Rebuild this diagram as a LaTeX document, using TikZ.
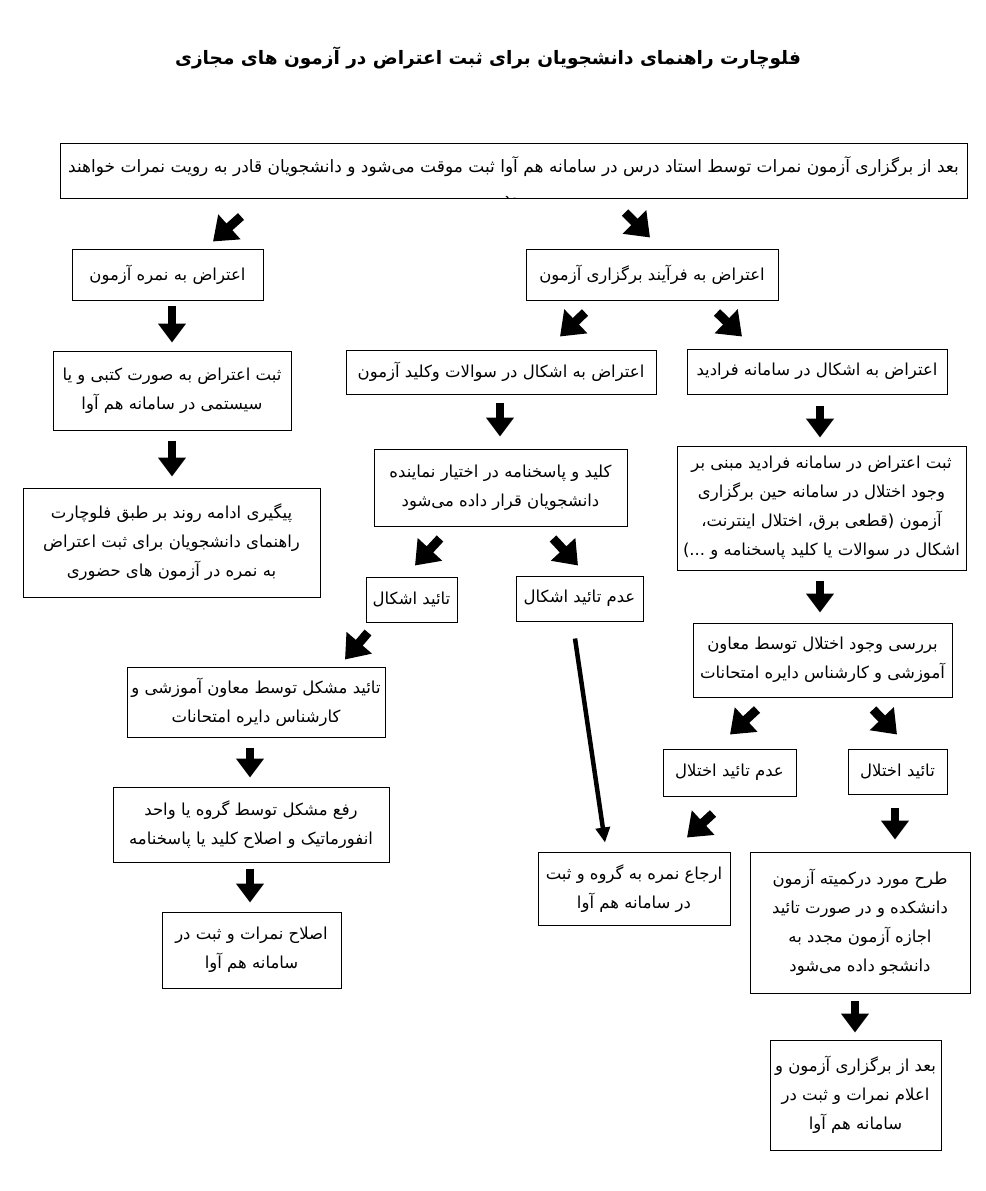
\documentclass[tikz,border=0pt]{standalone}
\usepackage{fontspec}
\usetikzlibrary{arrows.meta,calc}
\newfontfamily\arabicfont[Script=Arabic]{DejaVu Sans}
\TeXXeTstate=1
\newcommand{\fa}[1]{\beginR #1\endR}
\begin{document}
\begin{tikzpicture}[x=1pt,y=-1pt,
  box/.style={draw, line width=1pt, align=center, inner sep=0pt,
    font=\arabicfont\fontsize{16.5}{29}\selectfont},
  txt/.style={align=center, inner sep=0pt,
    font=\arabicfont\fontsize{17}{31}\selectfont},
  blk/.style={line width=8pt, -{Triangle[length=19pt,width=27pt]}},
  dgl/.style={line width=9pt, -{Triangle[length=22pt,width=32pt]}},
  lng/.style={line width=4.5pt, -{Triangle[length=15pt,width=14pt]}}]
\useasboundingbox[fill=white] (0,0) rectangle (985,1191);

\node[font=\arabicfont\bfseries\fontsize{18.5}{22}\selectfont] (title) at (488,58)
  {\fa{فلوچارت راهنمای دانشجویان برای ثبت اعتراض در آزمون های مجازی}};

\node[box, minimum width=907, minimum height=55] (top) at (513.5,170.5) {};
\begin{scope}
\clip (top.south west) rectangle (top.north east);
\node[txt] (toptext) at (513.5,182)
  {\fa{بعد از برگزاری آزمون نمرات توسط استاد درس در سامانه هم آوا ثبت موقت می‌شود و دانشجویان  قادر به رویت نمرات خواهند}\\\fa{بود}};
\end{scope}

\node[box, minimum width=191, minimum height=51] (n1) at (167.5,274.5) {\fa{اعتراض به نمره آزمون}};
\node[box, minimum width=252, minimum height=51] (n2) at (652,274.5) {\fa{اعتراض به فرآیند برگزاری آزمون}};
\node[box, minimum width=238, minimum height=79] (n3) at (172,390.5)
  {\fa{ثبت اعتراض به صورت کتبی و یا}\\\fa{سیستمی در سامانه هم آوا}};
\node[box, minimum width=297, minimum height=109] (n4) at (171.5,542.5)
  {\fa{پیگیری ادامه روند بر طبق فلوچارت}\\\fa{راهنمای دانشجویان  برای ثبت اعتراض}\\\fa{به نمره در آزمون های حضوری}};
\node[box, minimum width=310, minimum height=44] (n5) at (501,372) {\fa{اعتراض به اشکال در سوالات وکلید آزمون}};
\node[box, minimum width=260, minimum height=45] (n6) at (817,371.5) {\fa{اعتراض به اشکال در سامانه فرادید}};
\node[box, minimum width=253, minimum height=77] (n7) at (500.5,487.5)
  {\fa{کلید و پاسخنامه در اختیار نماینده}\\\fa{دانشجویان قرار داده می‌شود}};
\node[box, minimum width=289, minimum height=124] (n8) at (821.5,508)
  {\fa{ثبت اعتراض در سامانه فرادید مبنی بر}\\\fa{وجود اختلال در سامانه حین برگزاری}\\\fa{آزمون (قطعی برق، اختلال اینترنت،}\\\fa{اشکال در سوالات یا کلید پاسخنامه و ...)}};
\node[box, minimum width=91, minimum height=45] (n9) at (411.5,599.5) {\fa{تائید اشکال}};
\node[box, minimum width=127, minimum height=45] (n10) at (579.5,598.5) {\fa{عدم تائید اشکال}};
\node[box, minimum width=259, minimum height=74] (n11) at (822.5,660)
  {\fa{بررسی وجود اختلال توسط معاون}\\\fa{آموزشی و کارشناس دایره امتحانات}};
\node[box, minimum width=258, minimum height=70] (n12) at (256,702)
  {\fa{تائید مشکل توسط معاون آموزشی و}\\\fa{کارشناس دایره امتحانات}};
\node[box, minimum width=133, minimum height=47] (n13) at (729.5,772.5) {\fa{عدم تائید اختلال}};
\node[box, minimum width=99, minimum height=45] (n14) at (897.5,771.5) {\fa{تائید اختلال}};
\node[box, minimum width=276, minimum height=75] (n15) at (251,824.5)
  {\fa{رفع مشکل توسط گروه یا واحد}\\\fa{انفورماتیک و اصلاح کلید یا پاسخنامه}};
\node[box, minimum width=192, minimum height=73] (n16) at (634,888.5)
  {\fa{ارجاع نمره به گروه و ثبت}\\\fa{در سامانه هم آوا}};
\node[box, minimum width=220, minimum height=141] (n17) at (860,922.5)
  {\fa{طرح مورد درکمیته آزمون}\\\fa{دانشکده و در صورت تائید}\\\fa{اجازه آزمون مجدد به}\\\fa{دانشجو داده می‌شود}};
\node[box, minimum width=179, minimum height=76] (n18) at (251.5,950)
  {\fa{اصلاح نمرات و ثبت در}\\\fa{سامانه هم آوا}};
\node[box, minimum width=171, minimum height=110] (n19) at (855.5,1095)
  {\fa{بعد از برگزاری آزمون و}\\\fa{اعلام نمرات و ثبت در}\\\fa{سامانه هم آوا}};

% connectors
\draw[dgl] ($(top.south)+(-272.5,18)$) -- ($(n1.north)+(45.5,-7)$);
\draw[dgl] ($(top.south)+(111.5,14)$) -- ($(n2.north)+(-2,-11)$);
\draw[blk] ($(n1.south)+(4.5,5)$) -- ($(n3.north)+(0,-8)$);
\draw[blk] ($(n3.south)+(0,10)$) -- ($(n4.north)+(0.5,-11)$);
\draw[dgl] ($(n2.south)+(-67,12)$) -- ($(n5.north)+(59,-13)$);
\draw[dgl] ($(n2.south)+(65,12)$) -- ($(n6.north)+(-75,-12)$);
\draw[blk] ($(n5.south)+(-1,8)$) -- ($(n7.north)+(-0.5,-12)$);
\draw[blk] ($(n6.south)+(3,11)$) -- ($(n8.north)+(-1.5,-8)$);
\draw[dgl] ($(n7.south)+(-60.5,12)$) -- ($(n9.north)+(3.5,-11)$);
\draw[dgl] ($(n7.south)+(52.5,12)$) -- ($(n10.north)+(-1.5,-10)$);
\draw[blk] ($(n8.south)+(-1.5,10)$) -- ($(n11.north)+(-2.5,-10)$);
\draw[dgl] ($(n9.south)+(-43.5,10)$) -- ($(n12.north)+(89,-7)$);
\draw[lng] ($(n10.south)+(-4.5,17)$) -- ($(n16.north)+(-29,-9)$);
\draw[dgl] ($(n11.south)+(-65.5,12)$) -- ($(n13.north)+(0.5,-14)$);
\draw[dgl] ($(n11.south)+(50.5,12)$) -- ($(n14.north)+(-0.5,-14)$);
\draw[dgl] ($(n13.south)+(-16.5,17)$) -- ($(n16.north)+(53,-14)$);
\draw[blk] ($(n14.south)+(-2.5,13)$) -- ($(n17.north)+(35,-12)$);
\draw[blk] ($(n12.south)+(-6,10)$) -- ($(n15.north)+(-1,-9)$);
\draw[blk] ($(n15.south)+(-1,6)$) -- ($(n18.north)+(-1.5,-9)$);
\draw[blk] ($(n17.south)+(-5,7)$) -- ($(n19.north)+(-0.5,-7)$);
\end{tikzpicture}
\end{document}
